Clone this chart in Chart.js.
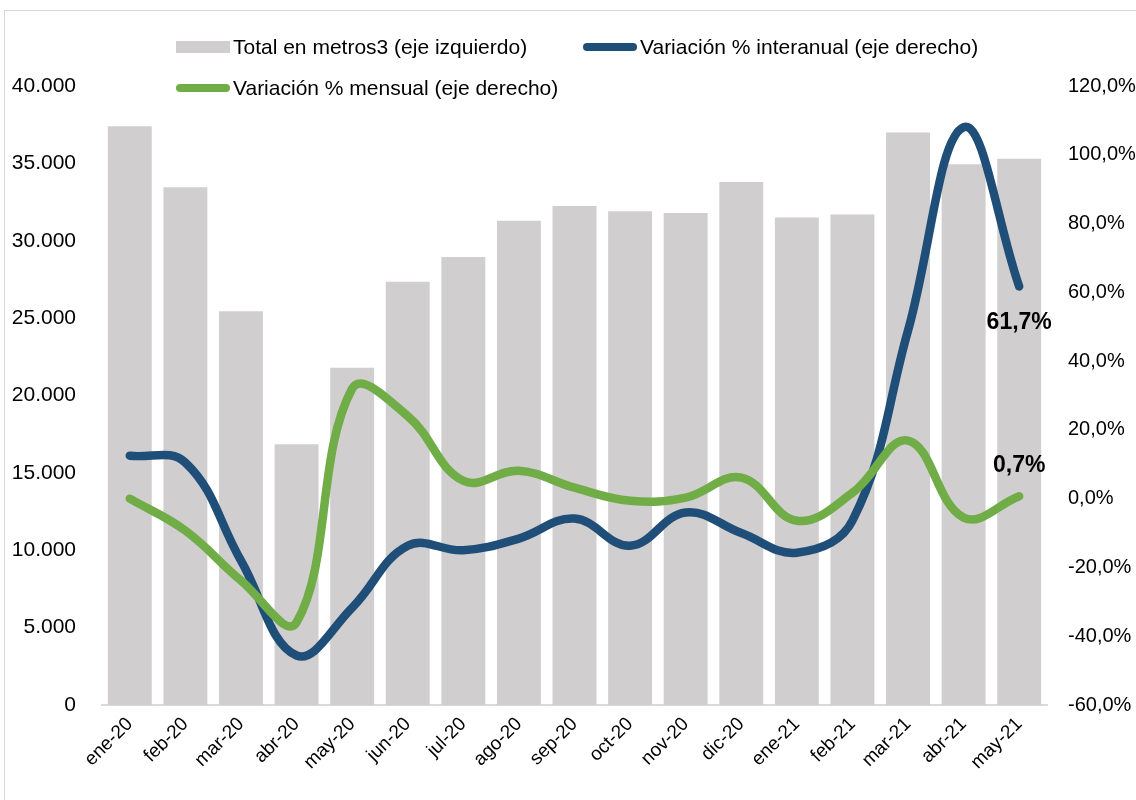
<!DOCTYPE html>
<html lang="es">
<head>
<meta charset="UTF-8">
<title>Total en metros3 y variaciones</title>
<script src="https://cdn.jsdelivr.net/npm/chart.js"></script>
<style>
    body { margin: 0; background: #fff; font-family: "Liberation Sans", Arial, sans-serif; }
    #wrap { position: relative; width: 1136px; height: 800px; }
    #frame { position: absolute; left: 4px; top: 10px; right: 0; bottom: 0;
             border-top: 1px solid #d9d9d9; border-left: 1px solid #d9d9d9; }
    canvas { position: absolute; left: 0; top: 0; }
    .leg { position: absolute; font-size: 21px; line-height: 24px; color: #000; display: flex; align-items: center; white-space: nowrap; }
    .leg .box { width: 54px; height: 12px; background: #d0cece; margin-right: 3px; }
    .leg .ln { width: 54px; height: 8px; border-radius: 4px; margin-right: 3px; }
</style>
</head>
<body>
<div id="wrap">
    <div id="frame"></div>
    <canvas id="chart" width="1136" height="800"></canvas>
    <div class="leg" style="left:176px; top:35px;"><span class="box"></span>Total en metros3 (eje izquierdo)</div>
    <div class="leg" style="left:583px; top:35px;"><span class="ln" style="background:#1f4e79"></span>Variación % interanual (eje derecho)</div>
    <div class="leg" style="left:176px; top:76px;"><span class="ln" style="background:#70ad47"></span>Variación % mensual (eje derecho)</div>
</div>
<script>
const months = ['ene-20', 'feb-20', 'mar-20', 'abr-20', 'may-20', 'jun-20', 'jul-20', 'ago-20', 'sep-20',
                'oct-20', 'nov-20', 'dic-20', 'ene-21', 'feb-21', 'mar-21', 'abr-21', 'may-21'];
const totalM3 = [37400, 33450, 25450, 16850, 21800, 27350, 28950, 31300, 32250,
                 31900, 31800, 33800, 31500, 31700, 37000, 34950, 35300];
const varInteranual = [12.5, 10.5, -18, -45.6, -31.7, -13.7, -15, -11.6, -5.8,
                       -13.7, -4, -10, -15.7, -6.4, 48.9, 108, 61.7];
const varMensual = [0, -9.3, -23.8, -36, 32, 24, 5.2, 8.1, 3.2,
                    -0.6, 0.3, 6.1, -6.4, 1.7, 16.9, -5.5, 0.7];

const fmtPct = v => v.toFixed(1).replace('.', ',') + '%';
const fmtNum = v => v.toLocaleString('de-DE');

// labels for last points of each line
const lastLabels = {
    id: 'lastLabels',
    afterDatasetsDraw(chart) {
        const ctx = chart.ctx;
        ctx.save();
        ctx.font = 'bold 23px "Liberation Sans", Arial, sans-serif';
        ctx.fillStyle = '#000';
        ctx.textAlign = 'center';
        ctx.textBaseline = 'middle';
        const n = months.length - 1;
        const pBlue = chart.getDatasetMeta(1).data[n];
        ctx.fillText(fmtPct(varInteranual[n]), pBlue.x, pBlue.y + 36);
        const pGreen = chart.getDatasetMeta(2).data[n];
        ctx.fillText(fmtPct(varMensual[n]), pGreen.x, pGreen.y - 31);
        ctx.restore();
    }
};

const tickFont = { family: '"Liberation Sans", Arial, sans-serif', size: 20 };

new Chart(document.getElementById('chart'), {
    data: {
        labels: months,
        datasets: [
            {
                type: 'bar', label: 'Total en metros3 (eje izquierdo)', data: totalM3,
                backgroundColor: '#d0cece', yAxisID: 'y', order: 3,
                categoryPercentage: 1, barPercentage: 0.79
            },
            {
                type: 'line', label: 'Variación % interanual (eje derecho)', data: varInteranual,
                borderColor: '#1f4e79', borderWidth: 8.5, pointRadius: 0, tension: 0.4,
                borderCapStyle: 'round', yAxisID: 'y1', order: 2
            },
            {
                type: 'line', label: 'Variación % mensual (eje derecho)', data: varMensual,
                borderColor: '#70ad47', borderWidth: 8.5, pointRadius: 0, tension: 0.4,
                borderCapStyle: 'round', yAxisID: 'y1', order: 1
            }
        ]
    },
    options: {
        responsive: false,
        animation: false,
        layout: { padding: { top: 86, left: 0, right: 0, bottom: 0 } },
        plugins: { legend: { display: false }, tooltip: { enabled: false } },
        scales: {
            x: {
                grid: { display: false, drawTicks: false },
                border: { color: '#d9d9d9', width: 2 },
                ticks: { color: '#000', font: { ...tickFont, size: 19 }, minRotation: 45, maxRotation: 45, padding: 8 },
                afterFit(s) { s.height = 95; }
            },
            y: {
                position: 'left', min: 0, max: 40000,
                grid: { display: false, drawTicks: false },
                border: { display: false },
                ticks: { stepSize: 5000, color: '#000', font: { ...tickFont, size: 21 }, padding: 26, callback: v => fmtNum(v) },
                afterFit(s) { s.width = 102; }
            },
            y1: {
                position: 'right', min: -60, max: 120,
                grid: { display: false, drawTicks: false },
                border: { display: false },
                ticks: { stepSize: 20, color: '#000', font: tickFont, padding: 21, callback: v => fmtPct(v) },
                afterFit(s) { s.width = 89; }
            }
        }
    },
    plugins: [lastLabels]
});
</script>
</body>
</html>
